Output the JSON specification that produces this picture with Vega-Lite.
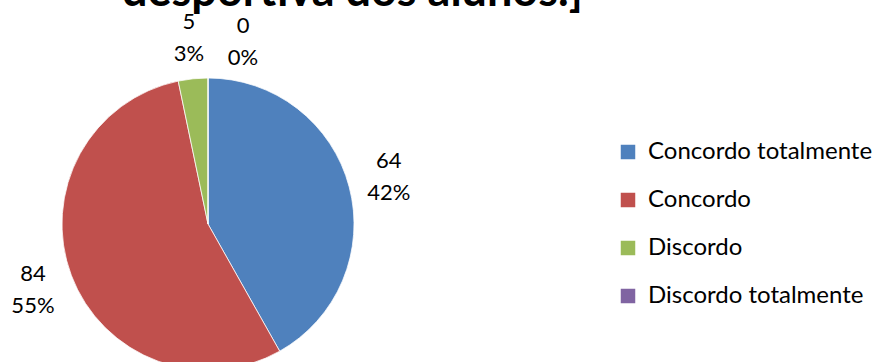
{
  "$schema": "https://vega.github.io/schema/vega-lite/v6.json",
  "width": 416,
  "height": 448,
  "autosize": {"type": "none"},
  "padding": {"left": 0, "top": 0, "right": 457, "bottom": -86},
  "background": "white",
  "title": {
    "text": "desportiva dos alunos.]",
    "anchor": "start",
    "frame": "group",
    "offset": -51,
    "baseline": "alphabetic",
    "dx": 122,
    "font": "Lato",
    "fontSize": 45,
    "fontWeight": "bold",
    "color": "#000000"
  },
  "data": {
    "values": [
      {"categoria": "Concordo totalmente", "valor": 64, "ordem": 1},
      {"categoria": "Concordo", "valor": 84, "ordem": 2},
      {"categoria": "Discordo", "valor": 5, "ordem": 3},
      {"categoria": "Discordo totalmente", "valor": 0, "ordem": 4}
    ]
  },
  "transform": [
    {"joinaggregate": [{"op": "sum", "field": "valor", "as": "total"}]},
    {"calculate": "datum.valor + '\\n' + format(datum.valor / datum.total, '.0%')", "as": "rotulo"}
  ],
  "encoding": {
    "theta": {"field": "valor", "type": "quantitative", "stack": true},
    "order": {"field": "ordem", "type": "quantitative", "sort": "ascending"}
  },
  "layer": [
    {
      "mark": {"type": "arc", "outerRadius": 146, "stroke": "#ffffff", "strokeWidth": 0.75},
      "encoding": {
        "color": {
          "field": "categoria",
          "type": "nominal",
          "scale": {
            "domain": ["Concordo totalmente", "Concordo", "Discordo", "Discordo totalmente"],
            "range": ["#4F81BD", "#C0504D", "#9BBB59", "#8064A2"]
          },
          "legend": {
            "title": null,
            "orient": "none",
            "legendX": 616,
            "legendY": 140,
            "padding": 0,
            "symbolType": "square",
            "symbolSize": 210,
            "symbolStrokeWidth": 0,
            "labelFont": "Lato",
            "labelFontSize": 24,
            "labelColor": "#000000",
            "labelOffset": 8,
            "labelLimit": 400,
            "rowPadding": 24
          }
        }
      }
    },
    {
      "mark": {"type": "text", "radius": 187, "dy": -16, "font": "Lato", "fontSize": 22, "lineHeight": 32, "lineBreak": "\n", "align": "center", "baseline": "middle", "color": "#000000"},
      "encoding": {
        "text": {"field": "rotulo"},
        "opacity": {"condition": {"test": "datum.valor > 0", "value": 1}, "value": 0}
      }
    },
    {
      "mark": {"type": "text", "radius": 187, "dx": 35, "dy": -11, "font": "Lato", "fontSize": 22, "lineHeight": 32, "lineBreak": "\n", "align": "center", "baseline": "middle", "color": "#000000"},
      "encoding": {
        "text": {"field": "rotulo"},
        "opacity": {"condition": {"test": "datum.valor == 0", "value": 1}, "value": 0}
      }
    }
  ]
}
